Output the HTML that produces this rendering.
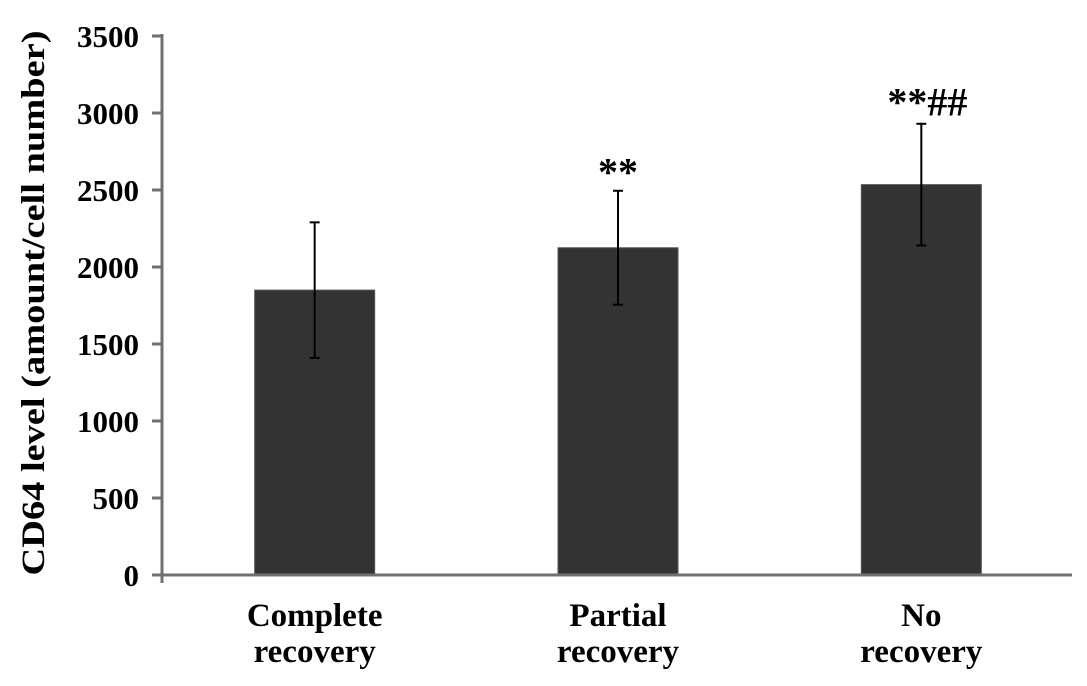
<!DOCTYPE html>
<html><head><meta charset="utf-8"><style>
html,body{margin:0;padding:0;background:#fff;}
svg{display:block;font-family:"Liberation Serif",serif;font-weight:bold;}
</style></head><body>
<svg id="chart" width="1087" height="686" viewBox="0 0 1087 686">
<g id="plot"></g>
</svg>
<script>
const categories = [["Complete","recovery"],["Partial","recovery"],["No","recovery"]];
const values = [1850, 2125, 2535];
const errors = [440, 370, 395];
const annotations = ["", "**", "**##"];
const annotationLevels = [0, 2530, 2985];
const yTicks = [0,500,1000,1500,2000,2500,3000,3500];

const NS="http://www.w3.org/2000/svg";
const g=document.getElementById('plot');
const x0=162, x1=1072, y0=575, yTop=36, yMax=3500;
function y(v){return y0-(v/yMax)*(y0-yTop);}
const slot=(x1-x0)/categories.length;
function xc(i){return x0+slot*(i+0.5)+1;}
function mk(tag,attrs,parent){const e=document.createElementNS(NS,tag);for(const k in attrs)e.setAttribute(k,attrs[k]);(parent||g).appendChild(e);return e;}

const yt=mk('text',{x:0,y:0,'font-size':33,'text-anchor':'middle',textLength:545,lengthAdjust:'spacingAndGlyphs',transform:'translate(44,303) rotate(-90)'});
yt.textContent='CD64 level (amount/cell number)';



yTicks.forEach(t=>{
  const l=mk('line',{x1:152,x2:x0,y1:y(t),y2:y(t),stroke:'#707070','stroke-width':3});
  
  
  const tx=mk('text',{x:139,y:y(t)+11,'font-size':31,'text-anchor':'end'});
  tx.textContent=t;
  
  
});

values.forEach((v,i)=>{
  const cx=xc(i), w=120;
  const b=mk('rect',{x:cx-w/2,y:y(v),width:w,height:y0-y(v),fill:'#333333',stroke:'#555','stroke-width':1});
  
  
  const e=errors[i];
  const eg=mk('g',{stroke:'#000','stroke-width':2});
  
  
  mk('line',{x1:cx,x2:cx,y1:y(v+e),y2:y(v-e)},eg);
  mk('line',{x1:cx-5,x2:cx+5,y1:y(v+e),y2:y(v+e)},eg);
  mk('line',{x1:cx-5,x2:cx+5,y1:y(v-e),y2:y(v-e)},eg);
  if(annotations[i]){
    const a=mk('text',{x:cx+(annotations[i].length>2?6:0),y:y(annotationLevels[i]),'font-size':40,'text-anchor':'middle'});
    a.textContent=annotations[i];
    
    
  }
  categories[i].forEach((s,j)=>{
    const t=mk('text',{x:cx,y:626+j*36,'font-size':33,'text-anchor':'middle'});
    t.textContent=s;
    
    
  });
});

const ya=mk('line',{x1:x0,x2:x0,y1:yTop-2,y2:y0+8,stroke:'#707070','stroke-width':3});


const xa=mk('line',{x1:152,x2:x1,y1:y0,y2:y0,stroke:'#707070','stroke-width':3});


</script>
</body></html>
